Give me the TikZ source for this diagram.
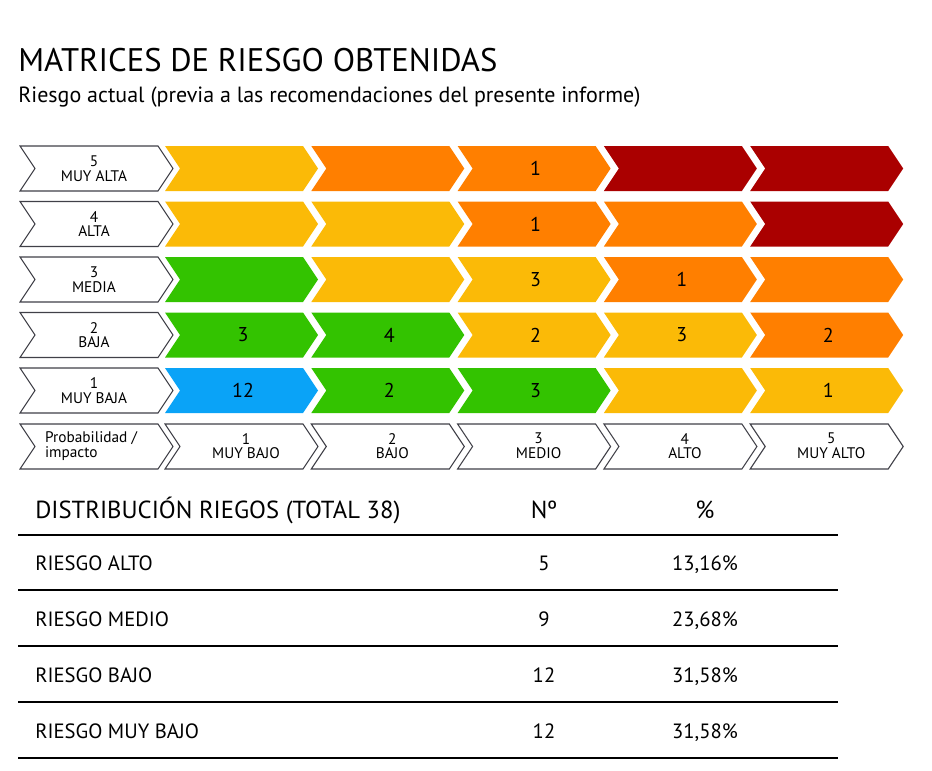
\documentclass[tikz,border=0pt]{standalone}
\usepackage{fontspec}
\setmainfont{PT Sans}
\definecolor{cY}{HTML}{FBBA07}
\definecolor{cO}{HTML}{FF7F00}
\definecolor{cR}{HTML}{AA0000}
\definecolor{cG}{HTML}{33C300}
\definecolor{cB}{HTML}{0AA3F7}
\definecolor{edge}{HTML}{404048}
\tikzset{
  lbl/.style={font=\fontsize{11.5}{12}\selectfont, align=center, inner sep=0pt},
  num/.style={font=\fontsize{15}{16}\selectfont, inner sep=0pt},
  tab/.style={font=\fontsize{15.5}{17}\selectfont, inner sep=0pt},
  rule/.style={line width=1.2pt}
}
% chevron: #1 = left x, #2 = top y, #3 = style
\newcommand{\chev}[3]{%
  \path[#3] (#1,#2) -- ++(138,0) -- ++(15,22.5) -- ++(-15,22.5) -- ++(-138,0) -- ++(15,-22.5) -- cycle;}
\begin{document}
\begin{tikzpicture}[x=0.75pt,y=-0.75pt]
        \useasboundingbox (0,0) rectangle (932,771);

        % Titles
        \node[anchor=base west, inner sep=0pt, font=\fontsize{24.5}{26}\selectfont] (title) at (18,71) {MATRICES DE RIESGO OBTENIDAS};
        \node[anchor=base west, inner sep=0pt, font=\fontsize{16.5}{18}\selectfont] (sub) at (18,102) {Riesgo actual (previa a las recomendaciones del presente informe)};

        % Row labels
        \foreach \r/\t [count=\i from 0] in {5/MUY ALTA, 4/ALTA, 3/MEDIA, 2/BAJA, 1/MUY BAJA} {
            \chev{20}{146+55.5*\i}{draw=edge, fill=white, line width=0.8pt}
            \node[lbl] (row\r) at (94,168.5+55.5*\i) {\r\\[-1pt]\t};
        }

        % Risk cells (colour/count per row)
        \foreach \cells [count=\i from 0] in {
            {cY/,cO/,cO/1,cR/,cR/},
            {cY/,cY/,cO/1,cO/,cR/},
            {cG/,cY/,cY/3,cO/1,cO/},
            {cG/3,cG/4,cY/2,cY/3,cO/2},
            {cB/12,cG/2,cG/3,cY/,cY/1}} {
            \foreach \c/\n [count=\j from 0] in \cells {
                \chev{165+146.3*\j}{146+55.5*\i}{fill=\c}
                \node[num] (cell\i\j) at (243+146.3*\j,168.5+55.5*\i) {\n};
            }
        }

        % Impact axis
        \chev{20}{424}{draw=edge, fill=white, line width=0.8pt}
        \node[lbl, align=left] (axis) at (91,446) {Probabilidad /\\[-1pt]impacto};
        \foreach \v/\t [count=\j from 0] in {1/MUY BAJO, 2/BAJO, 3/MEDIO, 4/ALTO, 5/MUY ALTO} {
            \chev{165+146.3*\j}{424}{draw=edge, fill=white, line width=0.8pt}
            \node[lbl] (imp\v) at (246+146.3*\j,446) {\v\\[-1pt]\t};
        }

        % Distribution table
        \node[anchor=base west, inner sep=0pt, font=\fontsize{18.5}{20}\selectfont] (thead) at (35,518) {DISTRIBUCIÓN RIEGOS (TOTAL 38)};
        \node[anchor=base, inner sep=0pt, font=\fontsize{18.5}{20}\selectfont] (tno) at (544,518) {Nº};
        \node[anchor=base, inner sep=0pt, font=\fontsize{18.5}{20}\selectfont] (tpc) at (705,518) {\%};
        \foreach \y in {535,590,646,702,758}
            \draw[rule] (18,\y) -- (838,\y);
        \foreach \t/\n/\p [count=\i from 0] in {RIESGO ALTO/5/13{,}16\%, RIESGO MEDIO/9/23{,}68\%, RIESGO BAJO/12/31{,}58\%, RIESGO MUY BAJO/12/31{,}58\%} {
            \node[tab, anchor=base west] (rt\i) at (35,570+56*\i) {\t};
            \node[tab, anchor=base] (rn\i) at (544,570+56*\i) {\n};
            \node[tab, anchor=base] (rp\i) at (705,570+56*\i) {\p};
        }
\end{tikzpicture}
\end{document}
